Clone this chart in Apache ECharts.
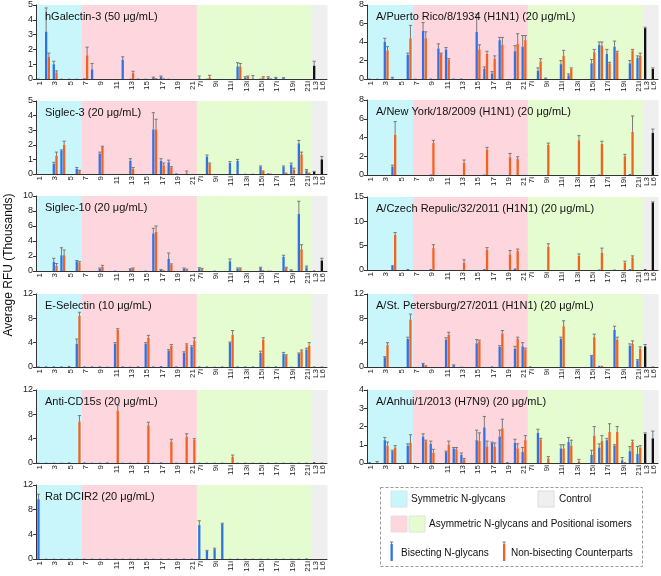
<!DOCTYPE html>
<html>
<head>
<meta charset="utf-8">
<script src="https://cdn.jsdelivr.net/npm/echarts@6.0.0/dist/echarts.min.js"></script>
<style>
html, body { margin: 0; padding: 0; background: #fff; }
#chart { width: 661px; height: 576px; }
</style>
</head>
<body>
<div id="chart"></div>
<script>
// glycan categories: symmetric 1-6, asymmetric 7-21, positional isomers 7i-21i, controls
const categories = ['1','2','3','4','5','6',
  '7','8','9','10','11','12','13','14','15','16','17','18','19','20','21',
  '7i','8i','9i','10i','11i','12i','13i','14i','15i','16i','17i','18i','19i','20i','21i',
  'L3','L6'];

// hGalectin-3
const galB  = [0.03,3.2,1.0,0.02,0.02,0.02, 0.05,0.65,0,0,0,1.3,0.02,0.03,0.02,0.08,0.15,0.02,0,0,0, 0.05,0.02,0,0,0,0.85,0.1,0.03,0.03,0.1,0.08,0.06,0,0,0, 0.9,0];
const galBE = [0,1.6,0.2,0,0,0, 0,0.4,0,0,0,0.2,0,0,0,0.05,0.05,0,0,0,0, 0.15,0,0,0,0,0.25,0.05,0.2,0,0.05,0.03,0.03,0,0,0, 0.3,0];
const galO  = [0,1.5,0.45,0,0,0, 1.6,0,0,0,0,0,0.4,0,0,0.06,0.05,0,0,0,0, 0,0.1,0,0,0,0.85,0.15,0,0.1,0.05,0,0,0,0,0, 0,0];
const galOE = [0,0.25,0.1,0,0,0, 0.55,0,0,0,0,0,0.12,0,0,0,0,0,0,0,0, 0,0.15,0,0,0,0.2,0.05,0,0.05,0,0,0,0,0,0, 0,0];

// Siglec-3
const s3B  = [0,0,0.7,1.6,0,0.35, 0,0,1.4,0,0,0,0.9,0,0,3.05,0.9,0.8,0.05,0,0, 0,1.2,0,0,0.75,0.9,0.02,0.02,0.5,0.05,0,0.5,0.65,2.1,0.25, 0.15,1.0];
const s3BE = [0,0,0.1,0.05,0,0.1, 0,0,0.1,0,0,0,0.15,0,0,1.15,0.15,0.15,0,0,0, 0,0.1,0,0,0.1,0.1,0,0,0.05,0,0,0.05,0.1,0.2,0.05, 0.03,0.2];
const s3O  = [0,0,1.25,2.0,0,0.2, 0,0,1.85,0,0,0,0.35,0,0,3.05,0.6,0.45,0,0.05,0, 0,0.7,0,0,0,0,0,0,0.25,0.03,0,0.1,0.3,1.35,0.1, 0,0];
const s3OE = [0,0,0.25,0.25,0,0.05, 0,0,0.05,0,0,0,0.1,0,0,0.7,0.15,0.05,0,0.15,0, 0,0.05,0,0,0,0,0,0,0,0,0,0,0.1,0.15,0, 0,0];

// Siglec-10
const s10B  = [0,0,1.2,2.1,0,1.3, 0,0,0.3,0,0.05,0,0.25,0,0.05,5.0,0.15,1.6,0,0.3,0, 0.35,0,0.05,0,1.3,0.3,0,0,0.4,0.05,0,1.9,0.1,7.6,0.5, 0.05,1.4];
const s10BE = [0,0,0.5,1.0,0,0.1, 0,0,0.1,0,0,0,0.05,0,0,0.7,0.05,0.8,0,0.1,0, 0.1,0,0,0,0.3,0.1,0,0,0.1,0,0,0.2,0.05,1.7,0.15, 0,0.3];
const s10O  = [0,0,0.7,2.1,0,1.1, 0,0,0.55,0,0,0,0.35,0,0,5.2,0.1,0.8,0,0.2,0, 0.25,0,0,0,0,0.3,0,0,0.1,0.05,0,0.4,0,2.9,0, 0,0];
const s10OE = [0,0,0.3,0.7,0,0.15, 0,0,0.2,0,0,0,0.05,0,0,0.8,0,0.15,0,0.05,0, 0.1,0,0,0,0,0.1,0,0,0,0,0,0.1,0,0.6,0, 0,0];

// E-Selectin
const esB  = [0.1,0.1,0.1,0.1,0.15,3.8, 0.1,0.1,0.1,0.05,3.8,0.1,0.05,0.1,3.8,0.1,0.15,2.7,0.1,2.3,3.3, 0.1,0.1,0.05,0.1,4.0,0.1,0.1,0.1,2.3,0.05,0.1,2.2,0.05,2.2,2.9, 0.05,0.05];
const esBE = [0,0,0,0,0,0.8, 0,0,0,0,0.2,0,0,0,0.2,0,0,0.15,0,0.2,0.2, 0,0,0,0,0.1,0,0,0,0.3,0,0,0.2,0,0.1,0.2, 0,0];
const esO  = [0,0,0,0,0,8.4, 0,0,0,0,6.1,0,0,0,4.8,0,0,3.5,0,3.6,4.3, 0,0,0,0,5.3,0,0,0,4.5,0,0,1.9,0,2.6,3.5, 0,0];
const esOE = [0,0,0,0,0,0.6, 0,0,0,0,0.2,0,0,0,0.4,0,0,0.2,0,0.2,0.5, 0,0,0,0,0.7,0,0,0,0.3,0,0,0.1,0,0.2,0.5, 0,0];

// Anti-CD15s
const cdB  = [0.05,0.05,0.05,0.05,0.1,0, 0.1,0.05,0.05,0.1,0,0.05,0.05,0.05,0,0.05,0.1,0,0.05,0,0, 0.05,0.05,0.05,0.05,0,0.05,0.05,0.05,0.05,0.05,0.05,0.05,0.05,0.05,0.05, 0.1,0.05];
const cdBE = [0,0,0,0,0,0, 0,0,0,0,0,0,0,0,0,0,0,0,0,0,0, 0,0,0,0,0,0,0,0,0,0,0,0,0,0,0, 0,0];
const cdO  = [0,0,0,0,0,6.8, 0,0,0,0,8.6,0,0,0,6.2,0,0,3.5,0,4.3,3.8, 0,0,0,0,1.0,0,0,0,0,0,0,0,0,0,0, 0,0];
const cdOE = [0,0,0,0,0,1.0, 0,0,0,0,0.9,0,0,0,0.5,0,0,0.4,0,0.5,0.2, 0,0,0,0,0.3,0,0,0,0,0,0,0,0,0,0, 0,0];

// Rat DCIR2
const dcB  = [9.7,0.05,0.05,0.05,0.05,0.05, 0.05,0.05,0.05,0.05,0.05,0.05,0.05,0.05,0.05,0.05,0.05,0.05,0.05,0.05,0.05, 5.5,1.3,1.6,5.7,0.05,0.05,0.05,0.05,0.05,0.05,0.05,0.05,0.05,0.05,0.1, 0,0];
const dcBE = [0.8,0,0,0,0,0, 0,0,0,0,0,0,0,0,0,0,0,0,0,0,0, 0.7,0.1,0.15,0.1,0,0,0,0,0,0,0,0,0,0,0, 0,0];
const dcO  = [0,0,0,0,0,0, 0,0,0,0,0,0,0,0,0,0,0,0,0,0,0, 0,0,0,0,0,0,0,0,0,0,0,0,0,0,0, 0,0];
const dcOE = [0,0,0,0,0,0, 0,0,0,0,0,0,0,0,0,0,0,0,0,0,0, 0,0,0,0,0,0,0,0,0,0,0,0,0,0,0, 0,0];

// A/Puerto Rico/8/1934
const prB  = [0.05,0.03,4.0,0.08,0,2.6, 0.03,5.2,0.05,3.3,3.2,0.05,0.05,0,5.1,1.1,0.6,4.2,0,3.0,3.5, 0,0.9,0.05,0,1.6,0.4,0,0,1.7,3.7,2.7,3.5,0,1.7,2.3, 5.5,1.1];
const prBE = [0,0,0.4,0.1,0,0.2, 0,0.9,0,0.5,0.2,0,0,0,1.9,0.2,0.2,0.3,0,0.6,1.2, 0,0.3,0.05,0,0.4,0.15,0,0,0.4,0.3,0.5,0.6,0,0.3,0.2, 0.1,0.1];
const prO  = [0,0,3.1,0,0,4.4, 0,4.4,0,2.7,2.1,0,0,0,3.2,2.7,2.2,3.7,0,3.8,4.2, 0,1.9,0,0,2.5,1.1,0,0,2.9,3.6,1.7,2.9,0,3.1,2.5, 0,0];
const prOE = [0,0,0.4,0,0,1.4, 0,0.7,0,0.1,0.1,0,0,0,0.5,0.3,0.3,0.8,0,1.1,0.5, 0,0.3,0,0,0.6,0.1,0,0,0.3,0.4,0.1,0.1,0,0.1,0.3, 0,0];

// A/New York/18/2009
const nyB  = [0,0,0,0.9,0,0, 0,0,0.05,0,0,0,0,0,0,0.05,0,0,0,0,0, 0,0,0,0,0,0,0,0,0,0.05,0,0,0,0.1,0, 0,4.5];
const nyBE = [0,0,0,0.15,0,0, 0,0,0,0,0,0,0,0,0,0,0,0,0,0,0, 0,0,0,0,0,0,0,0,0,0,0,0,0,0,0, 0,0.4];
const nyO  = [0,0,0,4.3,0,0, 0,0,3.4,0,0,0,1.3,0,0,2.7,0,0,1.9,1.7,0, 0,0,3.2,0,0,0,3.7,0,0,3.3,0,0,2.0,4.6,0, 0,0];
const nyOE = [0,0,0,1.4,0,0, 0,0,0.3,0,0,0,0.3,0,0,0.25,0,0,0.4,0.25,0, 0,0,0.2,0,0,0,0.5,0,0,0.3,0,0,0.2,1.7,0, 0,0];

// A/Czech Repulic/32/2011
const czB  = [0,0,0,1.0,0,0.2, 0,0,0.2,0,0,0,0,0,0,0.2,0,0,0,0.3,0, 0,0,0,0,0,0,0,0,0,0.1,0,0.1,0,0.2,0, 0.15,13.9];
const czBE = [0,0,0,0,0,0, 0,0,0,0,0,0,0,0,0,0,0,0,0,0,0, 0,0,0,0,0,0,0,0,0,0,0,0,0,0,0, 0,0.1];
const czO  = [0,0,0,7.2,0,0, 0,0,4.5,0,0,0,1.5,0,0,4.1,0,0,3.2,3.9,0, 0,0,4.8,0,0,0,2.9,0,0,3.5,0,0,1.5,2.6,0, 0,0];
const czOE = [0,0,0,0.5,0,0, 0,0,0.7,0,0,0,0.6,0,0,0.5,0,0,0.8,0.4,0, 0,0,0.6,0,0,0,0.4,0,0,1.0,0,0,0.3,0.3,0, 0,0];

// A/St. Petersburg/27/2011
const spB  = [0,0,1.6,0,0,4.6, 0,0.5,0,0,4.5,0.3,0.05,0,3.9,0,0.1,3.3,0,3.0,3.4, 0.1,0,0,0,4.6,0,0,0,1.8,0.2,0,6.1,0,3.5,1.1, 3.4,0.05];
const spBE = [0,0,0.1,0,0,0.3, 0,0.1,0,0,0.3,0.05,0,0,0.6,0,0,0.2,0,0.4,0.6, 0,0,0,0,0.3,0,0,0,0.1,0,0,0.6,0,0.3,0.1, 0.3,0];
const spO  = [0,0,3.6,0,0,7.8, 0,0.3,0,0,5.3,0,0,0,4.2,0,0,5.5,0,4.6,2.9, 0,0,0,0,6.7,0,0,0,4.9,0.2,0,4.5,0,3.8,3.0, 0,0];
const spOE = [0,0,0.4,0,0,0.9, 0,0,0,0,0.4,0,0,0,0.2,0,0,0.5,0,0.3,0.2, 0,0,0,0,0.9,0,0,0,0.5,0,0,0.4,0,0.5,0.3, 0,0];

// A/Anhui/1/2013
const ahB  = [0.05,0.03,1.25,0.65,0,0.95, 0,1.45,1.05,0,0.6,0.8,0.45,0,1.25,1.95,1.1,1.45,0.05,1.1,0.6, 0,1.65,0,0,0.8,1.15,0,0,0.45,0.85,1.25,0.95,0.15,0.65,0.5, 1.6,1.35];
const ahBE = [0,0.05,0.15,0.05,0,0.1, 0,0.15,0.15,0,0.05,0.05,0.1,0,0.55,0.6,0.05,0.35,0,0.2,0.25, 0,0.2,0,0,0.2,0.25,0,0,0.25,0.2,0.1,0.05,0.15,0.25,0.4, 0.05,0.4];
const ahO  = [0,0,0.95,0.85,0,1.1, 0,1.2,0.55,0,1.0,0.75,0.2,0,1.2,0.9,0.9,1.9,0,0.8,1.25, 0,1.3,0.25,0,0.8,0.95,0.1,0,1.5,1.2,1.7,1.7,0.05,1.15,0.85, 0,0];
const ahOE = [0,0,0.2,0.1,0,0.45, 0,0.05,0.2,0,0.2,0.1,0.05,0,0.45,0.3,0.2,0.5,0,0.25,0.25, 0,0.05,0.1,0,0.2,0.3,0.1,0,0.5,0.3,0.45,0.3,0,0.1,0.1, 0,0];

const FONT = '"Liberation Sans", Arial, sans-serif';
const BLUE = '#2f72e6';
const ORANGE = '#f4621f';
const CONTROL = '#111111';
const ERR = '#7a7a7a';
const BAR_W = 2.3;
const BAR_GAP = 0.17;
const OFFSET = BAR_W * (1 + BAR_GAP) / 2;

// panel layout: left column / right column
const panels = [
  { title: 'hGalectin-3 (50 μg/mL)', b: galB, be: galBE, o: galO, oe: galOE, max: 5, step: 1, left: 36, top: 5, h: 74 },
  { title: 'Siglec-3 (20 μg/mL)', b: s3B, be: s3BE, o: s3O, oe: s3OE, max: 5, step: 1, left: 36, top: 101, h: 73 },
  { title: 'Siglec-10 (20 μg/mL)', b: s10B, be: s10BE, o: s10O, oe: s10OE, max: 10, step: 2, left: 36, top: 196, h: 75 },
  { title: 'E-Selectin (10 μg/mL)', b: esB, be: esBE, o: esO, oe: esOE, max: 12, step: 4, left: 36, top: 294, h: 73 },
  { title: 'Anti-CD15s (20 μg/mL)', b: cdB, be: cdBE, o: cdO, oe: cdOE, max: 12, step: 4, left: 36, top: 390, h: 73 },
  { title: 'Rat DCIR2 (20 μg/mL)', b: dcB, be: dcBE, o: dcO, oe: dcOE, max: 12, step: 4, left: 36, top: 485, h: 74 },
  { title: 'A/Puerto Rico/8/1934 (H1N1) (20 μg/mL)', b: prB, be: prBE, o: prO, oe: prOE, max: 8, step: 2, left: 367, top: 5, h: 74 },
  { title: 'A/New York/18/2009 (H1N1) (20 μg/mL)', b: nyB, be: nyBE, o: nyO, oe: nyOE, max: 8, step: 2, left: 367, top: 100, h: 75 },
  { title: 'A/Czech Repulic/32/2011 (H1N1) (20 μg/mL)', b: czB, be: czBE, o: czO, oe: czOE, max: 15, step: 5, left: 367, top: 197, h: 73 },
  { title: 'A/St. Petersburg/27/2011 (H1N1) (20 μg/mL)', b: spB, be: spBE, o: spO, oe: spOE, max: 12, step: 4, left: 367, top: 294, h: 73 },
  { title: 'A/Anhui/1/2013 (H7N9) (20 μg/mL)', b: ahB, be: ahBE, o: ahO, oe: ahOE, max: 4, step: 1, left: 367, top: 390, h: 73 }
];
const PANEL_W = 291;

function bandColor(c) {
  if (c.startsWith('L')) return '#efefef';
  if (c.endsWith('i')) return '#e5fbd0';
  return parseInt(c, 10) <= 6 ? '#c8f6fb' : '#fdd6de';
}

// every other glycan label, plus L6 (L3 goes on a helper axis so the two don't get culled)
function showLabel(i) {
  if (i <= 20) return i % 2 === 0;
  if (i <= 35) return (i - 21) % 2 === 0;
  return i === 37;
}

function errSeries(k, vals, errs, offset) {
  const data = [];
  vals.forEach((v, i) => { if (errs[i] > 0) data.push([i, v, errs[i]]); });
  return {
    type: 'custom', xAxisIndex: k, yAxisIndex: k, z: 4, silent: true,
    data: data,
    renderItem: (params, api) => {
      const i = api.value(0);
      const base = api.coord([i, api.value(1)]);
      const top = api.coord([i, api.value(1) + api.value(2)]);
      const x = base[0] + offset;
      return {
        type: 'group',
        children: [
          { type: 'line', shape: { x1: x, y1: base[1], x2: x, y2: top[1] }, style: { stroke: ERR, lineWidth: 1 } },
          { type: 'line', shape: { x1: x - 1.6, y1: top[1], x2: x + 1.6, y2: top[1] }, style: { stroke: ERR, lineWidth: 1 } }
        ]
      };
    }
  };
}

const labelStyle = { rotate: 90, fontSize: 8, margin: 2, color: '#222', fontFamily: FONT, hideOverlap: false };
const grid = [], xAxis = [], yAxis = [], series = [], title = [];
panels.forEach((p, k) => {
  grid.push({ left: p.left, top: p.top, width: PANEL_W, height: p.h });
  title.push({
    text: p.title, left: p.left + 4, top: p.top + 1,
    textStyle: { fontFamily: FONT, fontSize: 11, fontWeight: 'normal', color: '#111' }
  });
  xAxis.push({
    type: 'category', gridIndex: k, data: categories,
    axisLine: { lineStyle: { color: '#333', width: 1 } },
    axisTick: { show: false },
    axisLabel: Object.assign({ interval: (i) => showLabel(i), showMinLabel: true, showMaxLabel: true }, labelStyle)
  });
  yAxis.push({
    type: 'value', gridIndex: k, min: 0, max: p.max, interval: p.step,
    axisLine: { show: true, lineStyle: { color: '#333', width: 1 } },
    axisTick: { show: true, length: 3, lineStyle: { color: '#333' } },
    axisLabel: { fontSize: 9, margin: 3, color: '#222', fontFamily: FONT },
    splitLine: { show: false }
  });
  // background bands
  series.push({
    type: 'custom', xAxisIndex: k, yAxisIndex: k, z: 0, silent: true,
    data: categories.map((c, i) => [i, p.max]),
    renderItem: (params, api) => {
      const i = api.value(0);
      const b = api.coord([i, 0]);
      const t = api.coord([i, api.value(1)]);
      const w = api.size([1, 0])[0];
      return {
        type: 'rect',
        shape: { x: b[0] - w / 2, y: t[1], width: w + 0.6, height: b[1] - t[1] },
        style: { fill: bandColor(categories[i]) }
      };
    }
  });
  series.push({
    type: 'bar', name: 'Bisecting N-glycans', xAxisIndex: k, yAxisIndex: k, z: 2,
    barWidth: BAR_W, barGap: (BAR_GAP * 100) + '%',
    itemStyle: { color: BLUE },
    data: p.b.map((v, i) => categories[i].startsWith('L') ? { value: v, itemStyle: { color: CONTROL } } : v)
  });
  series.push({
    type: 'bar', name: 'Non-bisecting Counterparts', xAxisIndex: k, yAxisIndex: k, z: 2,
    barWidth: BAR_W, barGap: (BAR_GAP * 100) + '%',
    itemStyle: { color: ORANGE },
    data: p.o
  });
  series.push(errSeries(k, p.b, p.be, -OFFSET));
  series.push(errSeries(k, p.o, p.oe, OFFSET));
});
// helper axes carrying only the L3 label
panels.forEach((p, k) => {
  xAxis.push({
    type: 'category', gridIndex: k, data: categories, position: 'bottom',
    axisLine: { show: false }, axisTick: { show: false },
    axisLabel: Object.assign({ interval: (i) => i === 36, showMinLabel: false, showMaxLabel: false }, labelStyle)
  });
});

const legendText = { fontFamily: FONT, fontSize: 10, fill: '#111', textVerticalAlign: 'middle' };
const graphic = [
  {
    type: 'text', x: 9, y: 265, rotation: Math.PI / 2,
    style: { text: 'Average RFU (Thousands)', fontFamily: FONT, fontSize: 12, fill: '#111', textAlign: 'center', textVerticalAlign: 'middle' }
  },
  {
    type: 'rect', shape: { x: 380.5, y: 487.5, width: 262, height: 79 },
    style: { fill: 'none', stroke: '#999', lineWidth: 1, lineDash: [3, 2] }
  },
  { type: 'rect', shape: { x: 391, y: 491, width: 16, height: 16 }, style: { fill: '#c8f6fb', stroke: '#d8e4e6' } },
  { type: 'text', x: 411, y: 499, style: Object.assign({ text: 'Symmetric N-glycans' }, legendText) },
  { type: 'rect', shape: { x: 538, y: 491, width: 16, height: 16 }, style: { fill: '#efefef', stroke: '#dcdcdc' } },
  { type: 'text', x: 559, y: 499, style: Object.assign({ text: 'Control' }, legendText) },
  { type: 'rect', shape: { x: 391, y: 516, width: 16, height: 16 }, style: { fill: '#fdd6de', stroke: '#e6dcde' } },
  { type: 'rect', shape: { x: 409, y: 516, width: 16, height: 16 }, style: { fill: '#e5fbd0', stroke: '#dfe6da' } },
  { type: 'text', x: 429, y: 524, style: Object.assign({ text: 'Asymmetric N-glycans and Positional isomers' }, legendText) },
  { type: 'rect', shape: { x: 390.5, y: 544, width: 2.3, height: 17 }, style: { fill: BLUE } },
  { type: 'line', shape: { x1: 391.6, y1: 542, x2: 391.6, y2: 544 }, style: { stroke: ERR } },
  { type: 'line', shape: { x1: 390, y1: 542, x2: 393.2, y2: 542 }, style: { stroke: ERR } },
  { type: 'text', x: 401, y: 553, style: Object.assign({ text: 'Bisecting N-glycans' }, legendText) },
  { type: 'rect', shape: { x: 503, y: 544, width: 2.3, height: 17 }, style: { fill: ORANGE } },
  { type: 'line', shape: { x1: 504.1, y1: 542, x2: 504.1, y2: 544 }, style: { stroke: ERR } },
  { type: 'line', shape: { x1: 502.5, y1: 542, x2: 505.7, y2: 542 }, style: { stroke: ERR } },
  { type: 'text', x: 511, y: 553, style: Object.assign({ text: 'Non-bisecting Counterparts' }, legendText) }
];

const chart = echarts.init(document.getElementById('chart'));
chart.setOption({
  animation: false,
  backgroundColor: '#fff',
  title: title,
  grid: grid,
  xAxis: xAxis,
  yAxis: yAxis,
  series: series,
  graphic: graphic
});
</script>
</body>
</html>
